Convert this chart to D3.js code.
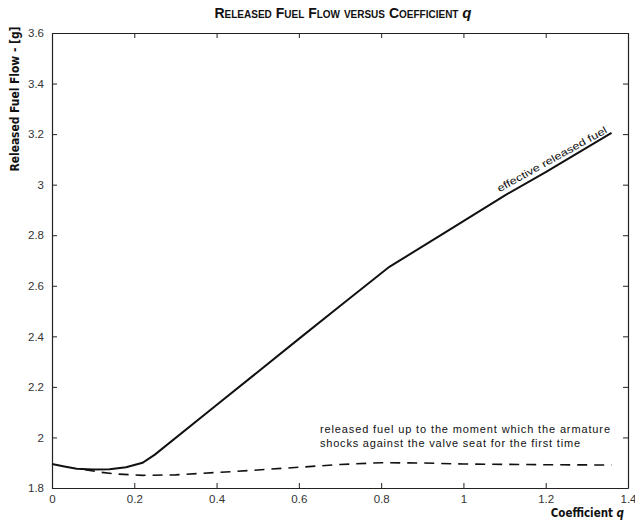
<!DOCTYPE html>
<html>
<head>
<meta charset="utf-8">
<script src="https://cdn.jsdelivr.net/npm/d3@7"></script>
<style>
  body { margin: 0; background: #fff; }
  svg { display: block; font-family: "Liberation Sans", Arial, sans-serif; }
  .tick text { fill: #333; font-size: 11.5px; }
</style>
</head>
<body>
<svg width="635" height="522"></svg>
<script>
//Data
var effectiveQ    = [0, 0.03, 0.06, 0.1, 0.14, 0.18, 0.22, 0.25, 0.4, 0.6, 0.7, 0.82, 0.95, 1.1, 1.2, 1.36];
var effectiveFuel = [1.895, 1.885, 1.876, 1.873, 1.874, 1.882, 1.9, 1.932, 2.128, 2.39, 2.52, 2.675, 2.805, 2.957, 3.05, 3.205];

var firstShockQ    = [0.08, 0.12, 0.16, 0.22, 0.3, 0.45, 0.6, 0.7, 0.8, 0.9, 1.0, 1.2, 1.36];
var firstShockFuel = [1.872, 1.862, 1.855, 1.85, 1.852, 1.866, 1.882, 1.893, 1.9, 1.899, 1.895, 1.892, 1.891];

var xTicks = [0, 0.2, 0.4, 0.6, 0.8, 1, 1.2, 1.4];
var yTicks = [1.8, 2, 2.2, 2.4, 2.6, 2.8, 3, 3.2, 3.4, 3.6];

var svg = d3.select("svg"),
    margin = {top: 33, right: 7, bottom: 34, left: 52},
    w = +svg.attr("width") - margin.left - margin.right,
    h = +svg.attr("height") - margin.top - margin.bottom;

//X & Y Scales
var x = d3.scaleLinear().domain([0, 1.4]).range([0, w]),
    y = d3.scaleLinear().domain([1.8, 3.6]).range([h, 0]);

var fmt = function(d) { return d3.format("~g")(d); };

var g = svg.append("g")
    .attr("transform", "translate(" + margin.left + "," + margin.top + ")");

//Axes with inward ticks, box all round
g.append("g")
    .attr("transform", "translate(0," + h + ")")
    .call(d3.axisBottom(x).tickValues(xTicks).tickFormat(fmt).tickSizeInner(-5).tickSizeOuter(0).tickPadding(7));
g.append("g")
    .call(d3.axisLeft(y).tickValues(yTicks).tickFormat(fmt).tickSizeInner(-5).tickSizeOuter(0).tickPadding(8));
g.append("g")
    .call(d3.axisTop(x).tickValues(xTicks).tickFormat("").tickSizeInner(-5).tickSizeOuter(0));
g.append("g")
    .attr("transform", "translate(" + w + ",0)")
    .call(d3.axisRight(y).tickValues(yTicks).tickFormat("").tickSizeInner(-5).tickSizeOuter(0));

g.selectAll(".domain").attr("stroke", "#222").attr("stroke-width", 1.2);
g.selectAll(".tick line").attr("stroke", "#222");

var line = d3.line()
    .x(function(d) { return x(d[0]); })
    .y(function(d) { return y(d[1]); });

//Effective released fuel
g.append("path")
    .datum(d3.zip(effectiveQ, effectiveFuel))
    .attr("fill", "none")
    .attr("stroke", "#111")
    .attr("stroke-width", 2)
    .attr("d", line);

//Fuel released until first shock
g.append("path")
    .datum(d3.zip(firstShockQ, firstShockFuel))
    .attr("fill", "none")
    .attr("stroke", "#111")
    .attr("stroke-width", 1.6)
    .attr("stroke-dasharray", "10,7")
    .attr("d", line);

//Annotations
g.append("text")
    .attr("transform", "translate(" + (x(1.085) + 1) + "," + (y(2.95) - 5) + ") rotate(-29)")
    .attr("font-size", 10)
    .attr("textLength", 124)
    .attr("lengthAdjust", "spacingAndGlyphs")
    .attr("fill", "#111")
    .text("effective released fuel");

var note = g.append("text")
    .attr("font-size", 11)
    .attr("fill", "#111");
note.append("tspan")
    .attr("x", 268).attr("y", 400)
    .attr("textLength", 290)
    .text("released fuel up to the moment which the armature");
note.append("tspan")
    .attr("x", 268).attr("y", 414)
    .attr("textLength", 260)
    .text("shocks against the valve seat for the first time");

//Title and axis labels
var title = svg.append("text")
    .attr("x", 343).attr("y", 18)
    .attr("text-anchor", "middle")
    .attr("font-size", 14)
    .attr("font-weight", "bold")
    .attr("fill", "#111");
title.append("tspan")
    .style("font-variant", "small-caps")
    .text("Released Fuel Flow versus Coefficient ");
title.append("tspan")
    .attr("font-style", "italic")
    .attr("font-size", 15)
    .text("q");

svg.append("text")
    .attr("transform", "translate(19,99) rotate(-90)")
    .attr("text-anchor", "middle")
    .attr("font-size", 11.5)
    .attr("font-weight", "bold")
    .attr("textLength", 145)
    .attr("lengthAdjust", "spacingAndGlyphs")
    .style("font-family", "'DejaVu Sans Condensed', 'Liberation Sans Narrow', sans-serif")
    .attr("fill", "#111")
    .text("Released Fuel Flow - [g]");

svg.append("text")
    .attr("x", 624).attr("y", 517)
    .attr("text-anchor", "end")
    .attr("font-size", 11.5)
    .attr("font-weight", "bold")
    .style("font-family", "'DejaVu Sans Condensed', 'Liberation Sans Narrow', sans-serif")
    .attr("fill", "#111")
    .text("Coefficient ")
    .append("tspan")
    .attr("font-style", "italic")
    .text("q");
</script>
</body>
</html>
